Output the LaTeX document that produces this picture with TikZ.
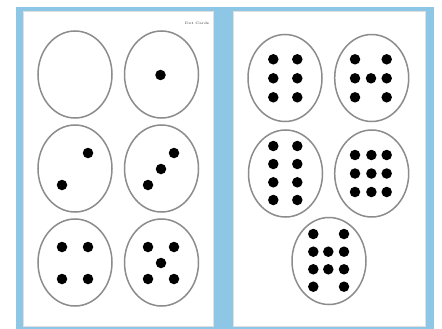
\documentclass[tikz,border=0pt]{standalone}
\usetikzlibrary{shapes.geometric}
\definecolor{frameblue}{RGB}{142,198,230}
\definecolor{rimgray}{RGB}{140,140,140}
\begin{document}
\begin{tikzpicture}[x=1pt, y=-1pt,
    card/.style={ellipse, draw=rimgray, line width=1.5pt, minimum width=74pt, minimum height=87pt, inner sep=0pt},
    dot/.style={circle, fill=black, minimum size=10.5pt, inner sep=0pt}]
    % background and the two sheets
    \useasboundingbox (0,0) rectangle (442,329);
    \fill [frameblue] (16,7) rectangle (434,329);
    \fill [white, draw=gray!25] (23,11) rectangle (213,326);
    \fill [white, draw=gray!25] (233,11) rectangle (425,326);
    \node [font=\fontsize{3.5}{4}\selectfont\bfseries, text=gray!80!black] (title) at (197,23) {Dot Cards};

    % left sheet: 0 to 5
    \node [card] (c0) at (75,74.5) {};
    \node [card] (c1) at (161.5,74.5) {};
    \node [card] (c2) at (75,168.5) {};
    \node [card] (c3) at (161.5,168.5) {};
    \node [card] (c4) at (75,262.5) {};
    \node [card] (c5) at (161.5,262.5) {};
    \node [dot] (d1-1) at ([shift={(-1,0.5)}]c1) {};
    \foreach \p [count=\i] in {(13,-15.5),(-13,16.5)}
        \node [dot] (d2-\i) at ([shift={\p}]c2) {};
    \foreach \p [count=\i] in {(12.5,-15.5),(-0.5,0.5),(-13.5,16.5)}
        \node [dot] (d3-\i) at ([shift={\p}]c3) {};
    \foreach \p [count=\i] in {(-13,-15.5),(13,-15.5),(-13,16.5),(13,16.5)}
        \node [dot] (d4-\i) at ([shift={\p}]c4) {};
    \foreach \p [count=\i] in {(-13.5,-15.5),(12.5,-15.5),(-0.5,0.5),(-13.5,16.5),(12.5,16.5)}
        \node [dot] (d5-\i) at ([shift={\p}]c5) {};

    % right sheet: 6 to 10
    \node [card] (c6) at (285,78) {};
    \node [card] (c7) at (371.7,78) {};
    \node [card] (c8) at (285.5,173.5) {};
    \node [card] (c9) at (371.7,173.5) {};
    \node [card] (c10) at (329,261) {};
    \foreach \p [count=\i] in {(-11.7,-18.7),(12.3,-18.7),(-11.7,0.3),(12.3,0.3),(-11.7,19.3),(12.3,19.3)}
        \node [dot] (d6-\i) at ([shift={\p}]c6) {};
    \foreach \p [count=\i] in {(-16.7,-18.7),(15,-18.7),(-16.7,0.3),(-0.7,0.3),(15,0.3),(-16.7,19.3),(15,19.3)}
        \node [dot] (d7-\i) at ([shift={\p}]c7) {};
    \foreach \p [count=\i] in {(-12.2,-27.5),(11.8,-27.5),(-12.2,-9.5),(11.8,-9.5),(-12.2,8.8),(11.8,8.8),(-12.2,26.5),(11.8,26.5)}
        \node [dot] (d8-\i) at ([shift={\p}]c8) {};
    \foreach \x in {-16.7,-0.3,15}
        \foreach \y in {-18.5,0,18.5}
            \node [dot] (d9-\x-\y) at ([shift={(\x,\y)}]c9) {};
    \foreach \p [count=\i] in {(-15.7,-27),(15,-27),(-15.7,-9.3),(-0.7,-9.3),(15,-9.3),(-15.7,8.3),(-0.7,8.3),(15,8.3),(-15.7,25.7),(15,25.7)}
        \node [dot] (d10-\i) at ([shift={\p}]c10) {};
\end{tikzpicture}
\end{document}
